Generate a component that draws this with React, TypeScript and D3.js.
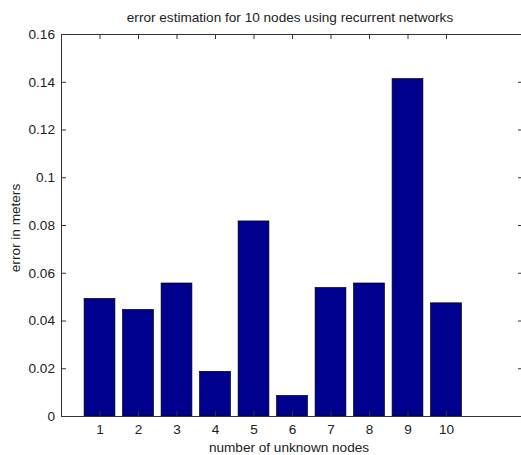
import React, { useRef, useEffect } from 'react';
import * as d3 from 'd3';

const nodes = [1, 2, 3, 4, 5, 6, 7, 8, 9, 10];
const errors = [0.0492, 0.0446, 0.0557, 0.0187, 0.0817, 0.0086, 0.0538, 0.0557, 0.1413, 0.0474];
const yTicks = [0, 0.02, 0.04, 0.06, 0.08, 0.1, 0.12, 0.14, 0.16];

const BarChart = () => {

    const svgRef = useRef(null);

    useEffect(() => {

        const svgWidth = 521;
        const svgHeight = 455;

        const margin = { top: 34, right: -2, bottom: 39, left: 61 };

        const width = svgWidth - margin.left - margin.right;
        const height = svgHeight - margin.top - margin.bottom;

        const svg = d3.select(svgRef.current)
            .attr("width", svgWidth)
            .attr("height", svgHeight);

        svg.selectAll("*").remove();

        svg.append("rect")
            .attr("width", svgWidth)
            .attr("height", svgHeight)
            .attr("fill", "#fff");

        const g = svg.append("g").attr("transform", `translate(${margin.left}, ${margin.top})`);

        const xScale = d3
            .scaleLinear()
            .domain([0, 12])
            .range([0, width]);

        const yScale = d3
            .scaleLinear()
            .domain([0, 0.16])
            .range([height, 0]);

        const barW = (xScale(1) - xScale(0)) * 0.8;
        const font = "Arial, 'Liberation Sans', sans-serif";
        const fs = 13.6;

        g.selectAll("rect.bar")
            .data(nodes)
            .enter()
            .append("rect")
            .attr("class", "bar")
            .attr("x", (d) => xScale(d) - barW / 2)
            .attr("y", (d, i) => yScale(errors[i]))
            .attr("width", barW)
            .attr("height", (d, i) => yScale(0) - yScale(errors[i]))
            .attr("fill", "#00008f")
            .attr("stroke", "#000")
            .attr("stroke-width", 0.7);

        // box with inward ticks on every side
        const tickColor = "#333";
        g.append("g")
            .attr("transform", `translate(0,${height})`)
            .call(d3.axisBottom(xScale).tickValues(nodes).tickSize(-5).tickPadding(8))
            .call((a) => a.select(".domain").attr("stroke", tickColor))
            .selectAll("text")
            .attr("font-family", font)
            .attr("font-size", fs)
            .attr("fill", "#222");

        g.append("g")
            .call(d3.axisTop(xScale).tickValues(nodes).tickSize(-5).tickFormat(() => ""))
            .call((a) => a.select(".domain").attr("stroke", tickColor));

        g.append("g")
            .call(d3.axisLeft(yScale).tickValues(yTicks).tickSize(-5).tickPadding(6)
                .tickFormat((d) => d3.format("")(+(+d).toFixed(2))))
            .call((a) => a.select(".domain").attr("stroke", tickColor))
            .selectAll("text")
            .attr("font-family", font)
            .attr("font-size", fs)
            .attr("fill", "#222");

        g.append("g")
            .attr("transform", `translate(${width},0)`)
            .call(d3.axisRight(yScale).tickValues(yTicks).tickSize(-5).tickFormat(() => ""))
            .call((a) => a.select(".domain").attr("stroke", tickColor));

        g.selectAll(".tick line").attr("stroke", tickColor);

        svg.append("text")
            .attr("x", 290)
            .attr("y", 22)
            .attr("text-anchor", "middle")
            .attr("font-family", font)
            .attr("font-size", fs)
            .attr("fill", "#222")
            .text("error estimation for 10 nodes using recurrent networks");

        svg.append("text")
            .attr("x", 289)
            .attr("y", 452)
            .attr("text-anchor", "middle")
            .attr("font-family", font)
            .attr("font-size", fs)
            .attr("fill", "#222")
            .text("number of unknown nodes");

        svg.append("text")
            .attr("transform", `translate(20, 228) rotate(-90)`)
            .attr("text-anchor", "middle")
            .attr("font-family", font)
            .attr("font-size", fs)
            .attr("fill", "#222")
            .text("error in meters");

    }, []);

    return (
        <div>
            <svg ref={svgRef} style={{ position: "absolute", left: 0, top: 0 }} />
        </div>
    );
};

export default function App() {
    return <BarChart />;
}
